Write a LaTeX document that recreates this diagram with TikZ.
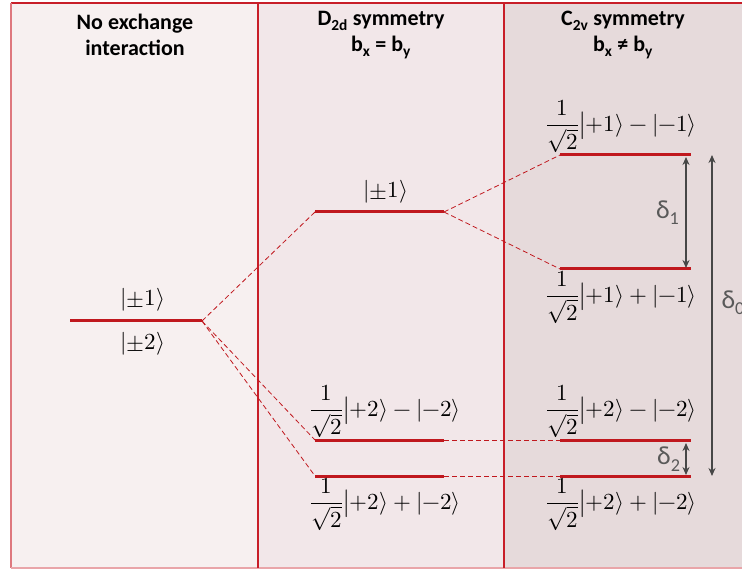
\documentclass[tikz,border=0pt]{standalone}
\usepackage{fontspec}
\setmainfont{Carlito}
\usepackage{amsmath}
\usepackage{unicode-math}
\setmathfont{Latin Modern Math}
\usetikzlibrary{arrows.meta,calc,positioning}
\definecolor{levelcolor}{RGB}{192,24,30}
\definecolor{framecolor}{RGB}{200,30,40}
\definecolor{panelfree}{RGB}{247,240,240}
\definecolor{paneldtwo}{RGB}{242,231,233}
\definecolor{panelctwo}{RGB}{230,218,219}
\colorlet{gapcolor}{black!72}
\tikzset{
  level/.style={levelcolor, line width=3pt},
  link/.style={levelcolor, line width=0.8pt, dash pattern=on 5pt off 3pt},
  header/.style={align=center, font=\fontsize{22}{26}\selectfont\bfseries},
  state/.style={inner sep=1pt, font=\fontsize{23}{27}\selectfont},
  gap arrow/.style={
    gapcolor,
    line width=1.5pt,
    {Stealth[length=8pt,width=7pt]}-{Stealth[length=8pt,width=7pt]}
  },
  gap label/.style={text=black!65, font=\fontsize{26}{30}\selectfont}
}
\newcommand{\ket}[1]{\lvert #1\rangle}

\begin{document}
\begin{tikzpicture}[x=1pt, y=-1pt]
  \useasboundingbox (0,0) rectangle (742,569);

  % Panel backgrounds and frame.
  \fill[panelfree] (11,3) rectangle (258,568);
  \fill[paneldtwo] (258,3) rectangle (504,568);
  \fill[panelctwo] (504,3) rectangle (742,568);
  \draw[framecolor, line width=1.5pt] (11,3) -- (742,3);
  \draw[framecolor!60, line width=2pt] (11,3) -- (11,568);
  \draw[framecolor!40, line width=1.5pt] (11,568) -- (742,568);
  \draw[framecolor, line width=2pt] (258,3) -- (258,568);
  \draw[framecolor, line width=1.2pt] (504,3) -- (504,568);

  % Column headers.
  \node[header] (hFree) at (135,35) {No exchange\\interaction};
  \node[header] (hDtwo) at (381,35) {D\textsubscript{2d} symmetry\\b\textsubscript{x} = b\textsubscript{y}};
  \node[header] (hCtwo) at (623,35) {C\textsubscript{2v} symmetry\\b\textsubscript{x} ≠ b\textsubscript{y}};

  % Level end points.
  \coordinate (fW) at (70,321);   \coordinate (fE) at (202,321);
  \coordinate (dAW) at (315,212); \coordinate (dAE) at (444,212);
  \coordinate (dBW) at (315,440); \coordinate (dBE) at (444,440);
  \coordinate (dCW) at (315,476); \coordinate (dCE) at (444,476);
  \coordinate (cAW) at (560,155); \coordinate (cAE) at (691,155);
  \coordinate (cBW) at (560,269); \coordinate (cBE) at (691,269);
  \coordinate (cCW) at (560,440); \coordinate (cCE) at (691,440);
  \coordinate (cDW) at (560,476); \coordinate (cDE) at (691,476);

  % Correlation lines.
  \draw[link] (fE) -- (dAW);
  \draw[link] (fE) -- (dBW);
  \draw[link] (fE) -- (dCW);
  \draw[link] (dAE) -- (cAW);
  \draw[link] (dAE) -- (cBW);
  \draw[link] (dBE) -- (cCW);
  \draw[link] (dCE) -- (cDW);

  % Energy levels.
  \foreach \lv in {f,dA,dB,dC,cA,cB,cC,cD}
    \draw[level] (\lv W) -- (\lv E);

  % State labels.
  \node[state, anchor=south] (sFa) at ($(fW)!0.55!(fE)+(0,-9)$) {$\ket{\pm1}$};
  \node[state, anchor=north] (sFb) at ($(fW)!0.55!(fE)+(0,10)$) {$\ket{\pm2}$};
  \node[state, anchor=south] (sDa) at ($(dAW)!0.55!(dAE)+(0,-8)$) {$\ket{\pm1}$};
  \node[state, anchor=south] (sDb) at ($(dBW)!0.5!(dBE)+(6,-1)$)
    {$\dfrac{1}{\sqrt{2}}\bigl|{+2}\rangle - \ket{-2}$};
  \node[state, anchor=north] (sDc) at ($(dCW)!0.5!(dCE)+(6,1)$)
    {$\dfrac{1}{\sqrt{2}}\bigl|{+2}\rangle + \ket{-2}$};
  \node[state, anchor=south] (sCa) at ($(cAW)!0.5!(cAE)+(-4,-1)$)
    {$\dfrac{1}{\sqrt{2}}\bigl|{+1}\rangle - \ket{-1}$};
  \node[state, anchor=north] (sCb) at ($(cBW)!0.5!(cBE)+(-4,1)$)
    {$\dfrac{1}{\sqrt{2}}\bigl|{+1}\rangle + \ket{-1}$};
  \node[state, anchor=south] (sCc) at ($(cCW)!0.5!(cCE)+(-4,-1)$)
    {$\dfrac{1}{\sqrt{2}}\bigl|{+2}\rangle - \ket{-2}$};
  \node[state, anchor=north] (sCd) at ($(cDW)!0.5!(cDE)+(-4,1)$)
    {$\dfrac{1}{\sqrt{2}}\bigl|{+2}\rangle + \ket{-2}$};

  % Splittings.
  \coordinate (gOneT) at (686,157); \coordinate (gOneB) at (686,268);
  \coordinate (gTwoT) at (686,443); \coordinate (gTwoB) at (686,475);
  \coordinate (gZeroT) at (712,155); \coordinate (gZeroB) at (712,476);
  \draw[gap arrow] (gOneT) -- (gOneB);
  \draw[gap arrow] (gTwoT) -- (gTwoB);
  \draw[gap arrow] (gZeroT) -- (gZeroB);
  \node[gap label, anchor=east] (lOne) at ($(gOneT)!0.5!(gOneB)+(-3,0)$) {δ\textsubscript{1}};
  \node[gap label, anchor=east] (lTwo) at ($(gTwoT)!0.5!(gTwoB)+(-2,0)$) {δ\textsubscript{2}};
  \node[gap label, anchor=west] (lZero) at ($(gZeroT)!0.5!(gZeroB)+(6,-13)$) {δ\textsubscript{0}};
\end{tikzpicture}
\end{document}
